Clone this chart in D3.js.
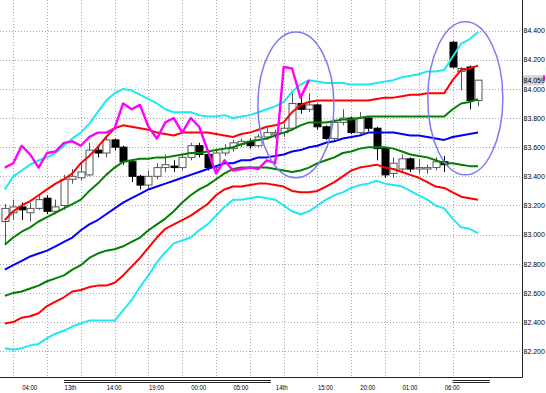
<!DOCTYPE html>
<html><head><meta charset="utf-8">
<script src="https://cdn.jsdelivr.net/npm/d3@7"></script>
<style>
html,body{margin:0;padding:0;background:#fff;}
svg{display:block;}
text{font-family:"Liberation Sans",Arial,sans-serif;}
</style></head>
<body>
<svg id="c" width="546" height="393"></svg>
<script>
// ---- data ----
const openP  = [83.09,83.15,83.19,83.15,83.18,83.25,83.16,83.20,83.38,83.39,83.41,83.58,83.56,83.65,83.60,83.50,83.40,83.34,83.40,83.46,83.47,83.46,83.53,83.61,83.55,83.46,83.56,83.59,83.62,83.64,83.61,83.67,83.69,83.70,83.73,83.90,83.86,83.89,83.74,83.66,83.77,83.80,83.70,83.80,83.73,83.59,83.42,83.45,83.52,83.45,83.45,83.46,83.50,84.32,84.12,84.15,83.92];
const highP  = [83.21,83.24,83.22,83.22,83.27,83.27,83.24,83.41,83.45,83.49,83.63,83.61,83.67,83.66,83.61,83.51,83.41,83.44,83.49,83.55,83.51,83.55,83.63,83.63,83.56,83.59,83.62,83.65,83.66,83.66,83.69,83.73,83.72,83.76,83.97,83.96,83.97,83.90,83.75,83.79,83.86,83.81,83.84,83.81,83.74,83.60,83.53,83.55,83.53,83.52,83.48,83.53,83.54,84.33,84.15,84.16,84.06];
const lowP   = [82.94,83.10,83.10,83.09,83.17,83.14,83.14,83.17,83.35,83.37,83.40,83.53,83.53,83.58,83.48,83.36,83.31,83.31,83.38,83.43,83.43,83.44,83.51,83.53,83.44,83.44,83.54,83.57,83.60,83.59,83.60,83.65,83.66,83.67,83.72,83.83,83.84,83.72,83.65,83.64,83.75,83.69,83.69,83.71,83.51,83.39,83.39,83.43,83.43,83.42,83.42,83.44,83.43,84.14,83.99,83.86,83.88];
const closeP = [83.18,83.19,83.17,83.18,83.24,83.16,83.19,83.38,83.40,83.43,83.58,83.56,83.65,83.60,83.50,83.40,83.34,83.40,83.46,83.48,83.46,83.53,83.61,83.55,83.46,83.56,83.59,83.63,83.64,83.61,83.67,83.70,83.70,83.73,83.90,83.86,83.89,83.74,83.66,83.77,83.80,83.70,83.80,83.73,83.59,83.41,83.49,83.52,83.45,83.46,83.46,83.50,83.48,84.15,84.14,83.92,84.06];

const upper3 = [83.31,83.40,83.44,83.48,83.51,83.53,83.56,83.61,83.66,83.70,83.76,83.84,83.92,83.97,84.00,83.99,83.96,83.93,83.90,83.86,83.84,83.84,83.84,83.82,83.81,83.81,83.82,83.80,83.81,83.82,83.84,83.86,83.88,83.91,83.98,84.03,84.06,84.05,84.04,84.04,84.04,84.03,84.03,84.03,84.04,84.05,84.06,84.08,84.09,84.10,84.12,84.12,84.13,84.22,84.31,84.34,84.39];
const upper2 = [83.10,83.16,83.20,83.23,83.27,83.31,83.35,83.38,83.42,83.49,83.54,83.60,83.67,83.73,83.75,83.74,83.73,83.72,83.70,83.69,83.68,83.70,83.70,83.70,83.70,83.69,83.68,83.67,83.69,83.70,83.72,83.74,83.75,83.77,83.84,83.89,83.91,83.92,83.92,83.92,83.92,83.92,83.92,83.92,83.93,83.94,83.94,83.95,83.96,83.96,83.97,83.97,83.97,84.06,84.13,84.14,84.16];
const upper1 = [82.93,82.98,83.02,83.05,83.09,83.12,83.15,83.18,83.21,83.24,83.30,83.35,83.41,83.46,83.50,83.51,83.52,83.52,83.53,83.53,83.54,83.55,83.56,83.56,83.57,83.58,83.59,83.60,83.62,83.64,83.65,83.66,83.68,83.70,83.72,83.75,83.77,83.77,83.77,83.78,83.79,83.79,83.80,83.81,83.81,83.81,83.81,83.81,83.81,83.81,83.81,83.81,83.81,83.86,83.90,83.91,83.93];
const middle = [82.76,82.79,82.82,82.85,82.87,82.89,82.92,82.95,82.98,83.03,83.07,83.10,83.14,83.18,83.22,83.25,83.28,83.31,83.33,83.35,83.37,83.39,83.41,83.43,83.45,83.47,83.49,83.49,83.51,83.51,83.53,83.53,83.54,83.55,83.57,83.58,83.60,83.61,83.63,83.64,83.66,83.67,83.68,83.70,83.70,83.70,83.70,83.69,83.68,83.68,83.67,83.66,83.65,83.67,83.68,83.69,83.70];
const lower1 = [82.58,82.60,82.61,82.63,82.65,82.68,82.70,82.72,82.76,82.79,82.84,82.87,82.89,82.90,82.92,82.95,82.98,83.03,83.07,83.11,83.16,83.22,83.27,83.31,83.34,83.38,83.42,83.45,83.46,83.46,83.46,83.46,83.45,83.44,83.43,83.44,83.46,83.49,83.51,83.53,83.56,83.57,83.59,83.60,83.60,83.60,83.59,83.57,83.55,83.54,83.53,83.51,83.49,83.49,83.48,83.47,83.47];
const lower2 = [82.39,82.40,82.43,82.44,82.46,82.51,82.54,82.57,82.61,82.62,82.64,82.65,82.65,82.67,82.72,82.78,82.84,82.91,82.98,83.04,83.07,83.10,83.13,83.17,83.21,83.27,83.31,83.33,83.33,83.34,83.35,83.35,83.34,83.33,83.30,83.29,83.29,83.30,83.33,83.36,83.40,83.44,83.46,83.47,83.48,83.46,83.45,83.43,83.41,83.39,83.36,83.33,83.32,83.29,83.26,83.25,83.24];
const lower3 = [82.22,82.21,82.22,82.24,82.25,82.29,82.32,82.34,82.37,82.39,82.41,82.41,82.41,82.41,82.48,82.55,82.64,82.72,82.81,82.88,82.94,82.96,82.98,83.03,83.07,83.13,83.19,83.24,83.24,83.25,83.26,83.25,83.24,83.20,83.16,83.14,83.16,83.20,83.24,83.27,83.29,83.32,83.34,83.35,83.37,83.35,83.34,83.33,83.30,83.27,83.24,83.20,83.18,83.11,83.05,83.04,83.01];
const lagging = [83.46,83.49,83.61,83.55,83.46,83.56,83.57,83.63,83.64,83.61,83.67,83.70,83.70,83.73,83.90,83.86,83.89,83.74,83.66,83.77,83.80,83.70,83.80,83.74,83.58,83.42,83.51,83.44,83.45,83.46,83.45,83.51,83.49,84.15,84.14,83.94,84.06];

const priceTicks = [82.2,82.4,82.6,82.8,83.0,83.2,83.4,83.6,83.8,84.0,84.2,84.4];
const timeLabelBars = [2,7,12,17,22,27,32,37,42,47,52];
const timeLabels = ["04:00","13th","14:00","19:00","00:00","05:00","14th","15:00","20:00","01:00","06:00"];
const gridBars = [1,5,9,13,17,21,25,29,33,37,41,45,49,53];
const lastPrice = 84.059;

// ---- layout ----
const W = 546, H = 393;
const plotRight = 522, plotBottom = 377;
const x = d3.scaleLinear().domain([0, 56]).range([4.8, 478]);
const y = d3.scaleLinear().domain([82.2, 84.4]).range([351.2, 30.6]);
const barStep = x(1) - x(0);

const svg = d3.select("#c");
svg.append("rect").attr("width", W).attr("height", H).attr("fill", "#fff");

// grid
const grid = svg.append("g").attr("stroke", "#a8a8a8").attr("stroke-dasharray", "1,2").attr("stroke-width", 1);
grid.selectAll("line.h").data(priceTicks).join("line")
  .attr("x1", 0).attr("x2", plotRight)
  .attr("y1", d => Math.round(y(d)) + 0.5).attr("y2", d => Math.round(y(d)) + 0.5);
grid.selectAll("line.v").data(gridBars).join("line")
  .attr("x1", d => Math.round(x(d)) + 0.5).attr("x2", d => Math.round(x(d)) + 0.5)
  .attr("y1", 0).attr("y2", plotBottom);

// candles
const idx = d3.range(openP.length);
const bw = 7;
const cg = svg.append("g");
cg.selectAll("line.w").data(idx).join("line")
  .attr("x1", i => Math.round(x(i)) + 0.5).attr("x2", i => Math.round(x(i)) + 0.5)
  .attr("y1", i => y(highP[i])).attr("y2", i => y(lowP[i]))
  .attr("stroke", i => closeP[i] >= openP[i] ? "#555" : "#000").attr("stroke-width", 1);
cg.selectAll("rect.b").data(idx).join("rect")
  .attr("x", i => Math.round(x(i)) - bw / 2 + 0.5)
  .attr("width", bw)
  .attr("y", i => y(Math.max(openP[i], closeP[i])))
  .attr("height", i => Math.max(1, Math.abs(y(openP[i]) - y(closeP[i]))))
  .attr("fill", i => closeP[i] >= openP[i] ? "#fff" : "#000")
  .attr("stroke", i => closeP[i] >= openP[i] ? "#555" : "#000")
  .attr("stroke-width", 1);

// bands
const line = d3.line().x((d, i) => x(i)).y(d => y(d));
const bands = [
  [upper3, "#1ee8f2"], [lower3, "#1ee8f2"],
  [upper2, "#ff0000"], [lower2, "#ff0000"],
  [upper1, "#008000"], [lower1, "#008000"],
  [middle, "#0000ff"]
];
const bg = svg.append("g").attr("fill", "none").attr("stroke-width", 2).attr("stroke-linejoin", "round");
bands.forEach(([vals, col]) => {
  bg.append("path").attr("d", line(vals)).attr("stroke", col);
});
svg.append("path").attr("d", line(lagging)).attr("fill", "none")
  .attr("stroke", "#ff00ff").attr("stroke-width", 2.4).attr("stroke-linejoin", "round");

// ellipses (annotations)
const ell = [
  {c: 34.45, p: 83.89, rb: 4.5, rp: 0.50},
  {c: 54.5, p: 83.935, rb: 4.44, rp: 0.525}
];
svg.append("g").selectAll("ellipse").data(ell).join("ellipse")
  .attr("cx", d => x(d.c)).attr("cy", d => y(d.p))
  .attr("rx", d => d.rb * barStep).attr("ry", d => y(d.p - d.rp) - y(d.p))
  .attr("fill", "none").attr("stroke", "#7b7cf2").attr("stroke-width", 1.5);

// frame
svg.append("line").attr("x1", plotRight + 0.5).attr("x2", plotRight + 0.5).attr("y1", 0).attr("y2", plotBottom + 0.5)
  .attr("stroke", "#222").attr("stroke-width", 1);
svg.append("line").attr("x1", 0).attr("x2", plotRight + 0.5).attr("y1", plotBottom + 0.5).attr("y2", plotBottom + 0.5)
  .attr("stroke", "#222").attr("stroke-width", 1);

// y axis labels
const yAxis = d3.axisRight(y).tickValues(priceTicks).tickFormat(d3.format(".3f")).tickSize(0).tickPadding(1.5);
const ya = svg.append("g").attr("transform", `translate(${plotRight},0)`).call(yAxis);
ya.select(".domain").remove();
ya.selectAll("text").attr("font-size", 7).attr("fill", "#000")
  .style("font-family", "'Liberation Sans',Arial,sans-serif");

// last price marker
const lp = svg.append("g");
lp.append("rect").attr("x", plotRight + 1).attr("y", y(lastPrice) - 5).attr("width", 21).attr("height", 10).attr("fill", "#d3d3d3");
lp.append("text").attr("x", plotRight + 1.5).attr("y", y(lastPrice) + 2.5).attr("font-size", 7).attr("fill", "#000")
  .text(d3.format(".3f")(lastPrice));
lp.append("rect").attr("x", plotRight + 21).attr("y", y(lastPrice) - 5).attr("width", 2).attr("height", 5).attr("fill", "#ff00ff");

// x axis labels
const xAxis = d3.axisBottom(x).tickValues(timeLabelBars).tickFormat((d, i) => timeLabels[i]).tickSize(0).tickPadding(0);
const xa = svg.append("g").attr("transform", `translate(0,${plotBottom})`).call(xAxis);
xa.select(".domain").remove();
xa.selectAll("text").attr("font-size", 8).attr("fill", "#000").attr("text-anchor", "start")
  .attr("dy", 0).attr("y", 13)
  .attr("textLength", (d, i) => timeLabels[i].length === 4 ? 12 : 15).attr("lengthAdjust", "spacingAndGlyphs")
  .style("font-family", "'Liberation Sans',Arial,sans-serif");

// day separator double lines
const daySpans = [[7, 31.5], [53, 57.4]];
const dg = svg.append("g").attr("stroke", "#222").attr("stroke-width", 1);
daySpans.forEach(([a, b]) => {
  [380.5, 382.5].forEach(yy => {
    dg.append("line").attr("x1", x(a)).attr("x2", Math.min(x(b), 525)).attr("y1", yy).attr("y2", yy);
  });
});
</script>
</body></html>
